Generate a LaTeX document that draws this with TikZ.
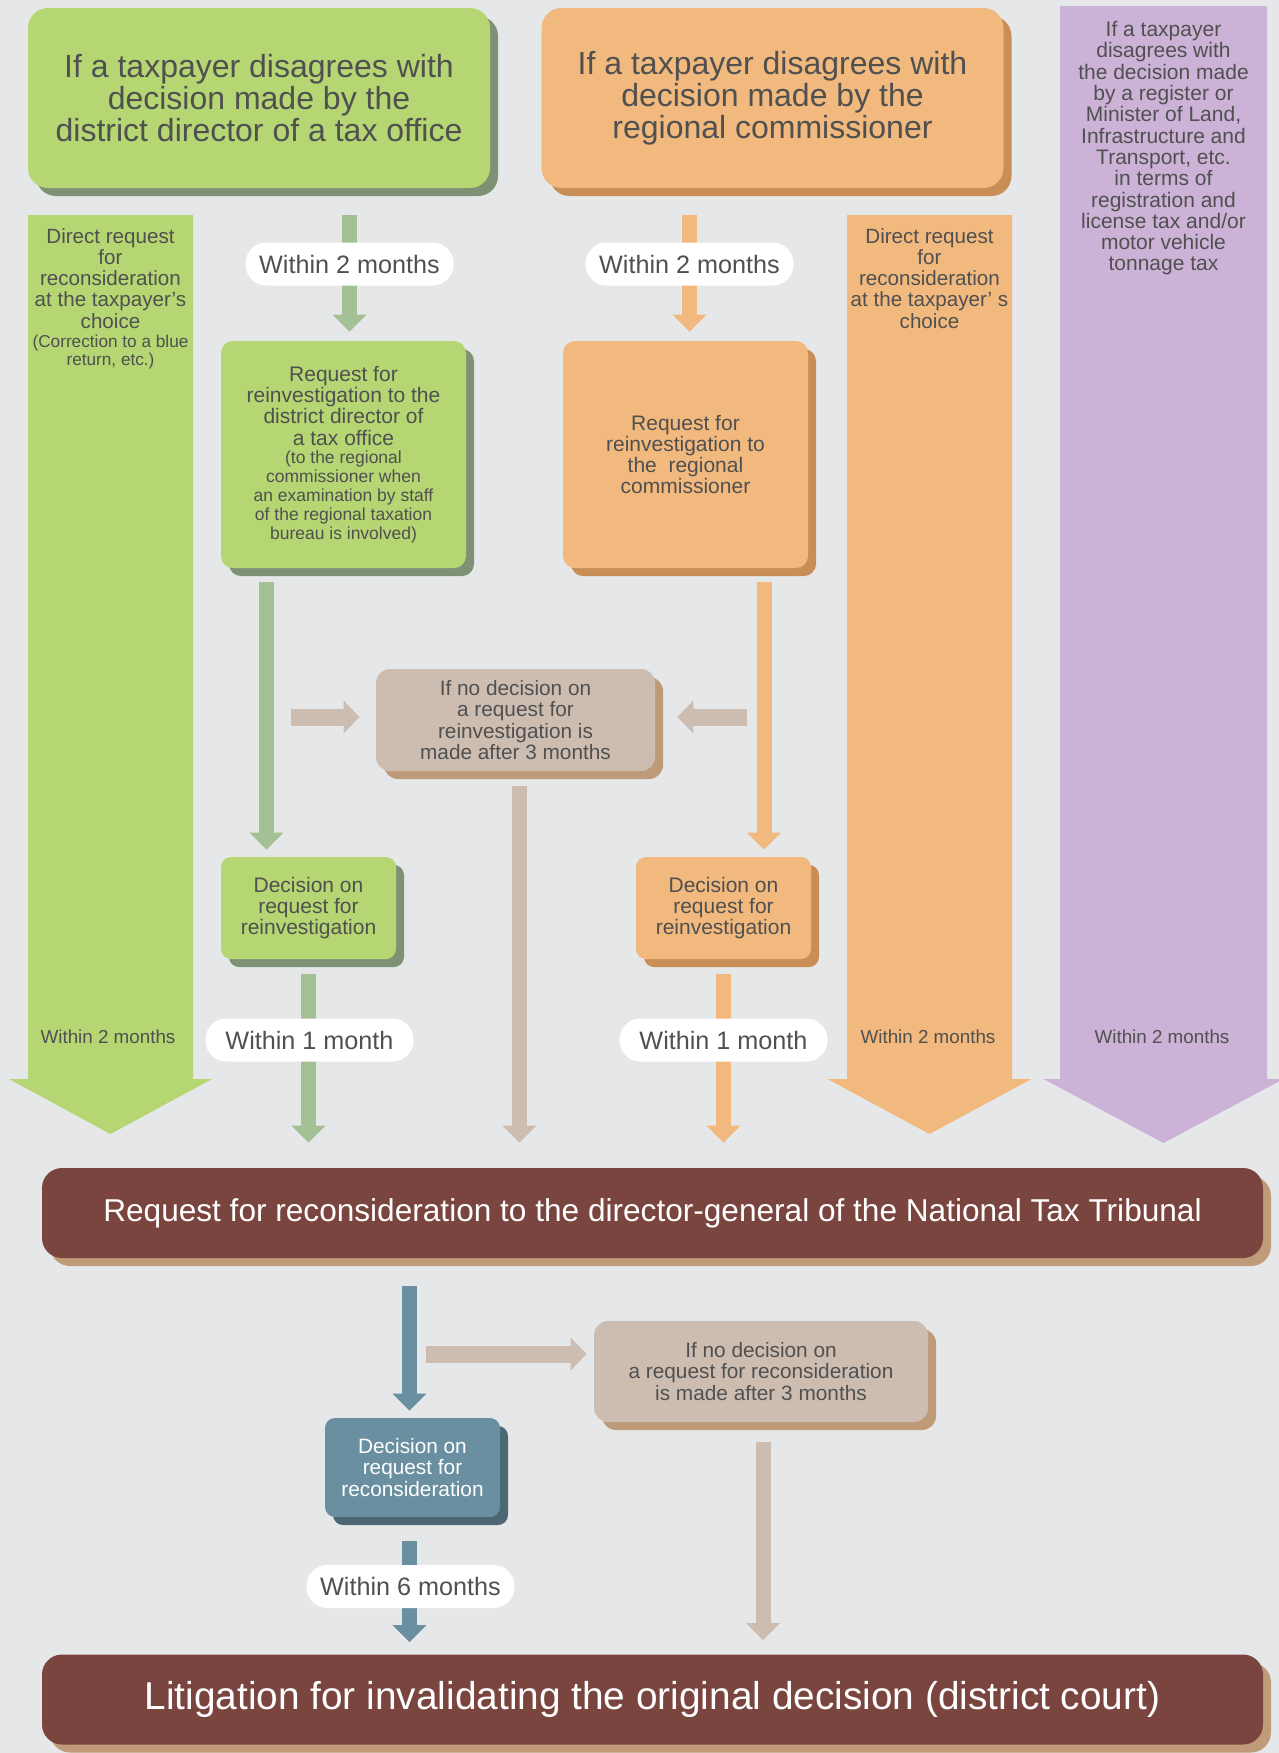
\documentclass[tikz,border=0pt]{standalone}
\usepackage{fontspec}
\setmainfont{Liberation Sans}
\usepackage{tikz}
\usetikzlibrary{arrows.meta}
\usetikzlibrary{shadows}
\usetikzlibrary{positioning}
\definecolor{bg}{HTML}{E6E7E9}
\definecolor{txt}{HTML}{505050}
\definecolor{grn}{HTML}{B5D673}
\definecolor{grnsh}{HTML}{7E9175}
\definecolor{grnarr}{HTML}{A4C095}
\definecolor{org}{HTML}{F1B97E}
\definecolor{orgsh}{HTML}{C88E55}
\definecolor{pur}{HTML}{CBB2D6}
\definecolor{tan}{HTML}{CDBDB1}
\definecolor{tansh}{HTML}{BF9A79}
\definecolor{redbox}{HTML}{7A453F}
\definecolor{redsh}{HTML}{C09B7A}
\definecolor{blu}{HTML}{6A8FA1}
\definecolor{blush}{HTML}{4C6673}
\newcommand{\fsz}[2]{\fontsize{#1}{#2}\selectfont}

\begin{document}
\begin{tikzpicture}[x=1pt,y=-1pt,
	every node/.style={text=txt, align=center, inner sep=0pt},
	box/.style={rounded corners=6pt, font=\fsz{10.5}{10.6}},
	green box/.style={box, fill=grn, drop shadow={shadow xshift=4pt, shadow yshift=-4pt, fill=grnsh, opacity=1}},
	orange box/.style={box, fill=org, drop shadow={shadow xshift=4pt, shadow yshift=-4pt, fill=orgsh, opacity=1}},
	tan box/.style={box, fill=tan, rounded corners=7pt, drop shadow={shadow xshift=4pt, shadow yshift=-4pt, fill=tansh, opacity=1}},
	blue box/.style={box, fill=blu, text=white, drop shadow={shadow xshift=4pt, shadow yshift=-4pt, fill=blush, opacity=1}},
	red box/.style={box, fill=redbox, text=white, rounded corners=10pt, minimum width=610.5pt, minimum height=45pt, drop shadow={shadow xshift=4pt, shadow yshift=-4pt, fill=redsh, opacity=1}},
	top box/.style={rounded corners=10pt, minimum width=231pt, minimum height=90pt, font=\fsz{16}{16}},
	col text/.style={anchor=north, font=\fsz{10.3}{10.6}},
	pill/.style={fill=white, rounded corners=10.5pt, minimum width=104pt, minimum height=21.5pt, font=\fsz{12.6}{13}},
	shaft/.style={line width=7.5pt, -{Triangle[width=16.5pt,length=8.5pt]}},
	side arrow/.style={draw=tan, line width=8.5pt, -{Triangle[width=16pt,length=8pt]}}]
			% Background
			\fill[bg] (0,0) rectangle (639.5,876.5);
			\useasboundingbox (0,0) rectangle (639.5,876.5);
			
			% Columns
			\fill[grn] (14,107.5) -- (96.5,107.5) -- (96.5,539.5) -- (106,539.5) -- (55.25,567) -- (4.5,539.5) -- (14,539.5) -- cycle;
			\fill[org] (423.5,107.5) -- (506,107.5) -- (506,539.5) -- (515.75,539.5) -- (464.75,567) -- (413.75,539.5) -- (423.5,539.5) -- cycle;
			\fill[pur] (530,3) -- (633.5,3) -- (633.5,539.5) -- (641.75,539.5) -- (581.75,571.5) -- (521.75,539.5) -- (530,539.5) -- cycle;
			
			% Nodes
			\node[green box, top box] (1) at (129.5,49) {If a taxpayer disagrees with\\decision made by the\\district director of a tax office};
			\node[orange box, top box] (2) at (386.25,49) {If a taxpayer disagrees with\\decision made by the\\regional commissioner};
			
			\node[col text] (3) at (55.25,114) {Direct request\\for\\reconsideration\\at the taxpayer’s\\choice};
			\node[font=\fsz{8.6}{9}] (4) [below=3pt of 3] {(Correction to a blue\\return, etc.)};
			\node[col text] (5) at (464.75,114) {Direct request\\for\\reconsideration\\at the taxpayer’ s\\choice};
			\node[col text, font=\fsz{10.5}{10.65}] (6) at (581.75,10.5) {If a taxpayer\\disagrees with\\the decision made\\by a register or\\Minister of Land,\\Infrastructure and\\Transport, etc.\\in terms of\\registration and\\license tax and/or\\motor vehicle\\tonnage tax};
			
			\node[green box, align=flush center, minimum width=122.5pt, minimum height=113.5pt, text width=118pt] (7) at (171.75,227.25)
			{{\fsz{10.5}{10.6}Request for\\reinvestigation to the\\district director of\\a tax office\par}{\fsz{8.75}{9.4}(to the regional\\commissioner when\\an examination by staff\\of the regional taxation\\bureau is involved)\par}};
			\node[orange box, minimum width=122.5pt, minimum height=113.5pt] (8) at (342.75,227.25) {Request for\\reinvestigation to\\the \ regional\\commissioner};
			
			\node[tan box, minimum width=139.5pt, minimum height=51pt, font=\fsz{10.4}{10.6}] (9) at (257.75,360) {If no decision on\\a request for\\reinvestigation is\\made after 3 months};
			
			\node[green box, rounded corners=5pt, minimum width=87.5pt, minimum height=51pt] (10) at (154.25,454) {Decision on\\request for\\reinvestigation};
			\node[orange box, rounded corners=5pt, minimum width=87.5pt, minimum height=51pt] (11) at (361.75,454) {Decision on\\request for\\reinvestigation};
			
			\node[red box, font=\fsz{15.8}{16}] (12) at (326.25,606.5) {Request for reconsideration to the director-general of the National Tax Tribunal};
			
			\node[tan box, minimum width=167pt, minimum height=50.5pt, font=\fsz{10.4}{10.9}] (13) at (380.5,685.75) {If no decision on\\a request for reconsideration\\is made after 3 months};
			\node[blue box, rounded corners=5pt, minimum width=87.5pt, minimum height=49.5pt, font=\fsz{10.4}{10.9}] (14) at (206.25,733.75) {Decision on\\request for\\reconsideration};
			
			\node[red box, font=\fsz{19.4}{20}] (15) at (326.25,849.75) {Litigation for invalidating the original decision (district court)};
			
			% Arrows
			\draw[shaft, grnarr, shorten <=13.5pt, shorten >=4.5pt] ([xshift=3pt]7.north |- 1.south) -- ([xshift=3pt]7.north);
			\draw[shaft, org, shorten <=13.5pt, shorten >=4.5pt] ([xshift=2pt]8.north |- 2.south) -- ([xshift=2pt]8.north);
			\draw[shaft, grnarr, shorten <=7pt, shorten >=3.5pt] ([xshift=-21pt]10.north |- 7.south) -- ([xshift=-21pt]10.north);
			\draw[shaft, org, shorten <=7pt, shorten >=3.5pt] ([xshift=20.25pt]11.north |- 8.south) -- ([xshift=20.25pt]11.north);
			
			\draw[side arrow, shorten >=8pt] ([xshift=-42.5pt, yshift=1.5pt]9.west) -- ([yshift=1.5pt]9.west);
			\draw[side arrow, shorten >=11pt] ([xshift=46pt, yshift=1.5pt]9.east) -- ([yshift=1.5pt]9.east);
			
			\draw[shaft, tan, shorten <=7.5pt, shorten >=12.5pt] ([xshift=2pt]9.south) -- ([xshift=2pt]9.south |- 12.north);
			\draw[shaft, grnarr, shorten <=7.5pt, shorten >=12.5pt] (10.south) -- (10.south |- 12.north);
			\draw[shaft, org, shorten <=7.5pt, shorten >=12.5pt] (11.south) -- (11.south |- 12.north);
			
			\draw[shaft, blu, shorten <=14pt, shorten >=3.5pt] ([xshift=-1.5pt]14.north |- 12.south) -- ([xshift=-1.5pt]14.north);
			\draw[side arrow, shorten >=3.5pt] ([xshift=-84pt, yshift=8.75pt]13.west) -- ([yshift=8.75pt]13.west);
			\draw[shaft, tan, shorten <=10pt, shorten >=7pt] ([xshift=1pt]13.south) -- ([xshift=1pt]13.south |- 15.north);
			\draw[shaft, blu, shorten <=12pt, shorten >=6pt] ([xshift=-1.5pt]14.south) -- ([xshift=-1.5pt]14.south |- 15.north);
			
			% Time limits
			\node[pill] (16) at (174.75,132) {Within 2 months};
			\node[pill] (17) at (344.75,132) {Within 2 months};
			\node[pill] (18) at (154.75,520) {Within 1 month};
			\node[pill] (19) at (361.75,520) {Within 1 month};
			\node[pill] (20) at (205.25,793.25) {Within 6 months};
			
			\node[font=\fsz{9.4}{10}] (21) at (54,518.5) {Within 2 months};
			\node[font=\fsz{9.4}{10}] (22) at (464,518.5) {Within 2 months};
			\node[font=\fsz{9.4}{10}] (23) at (581,518.5) {Within 2 months};
			
		\end{tikzpicture}
\end{document}
